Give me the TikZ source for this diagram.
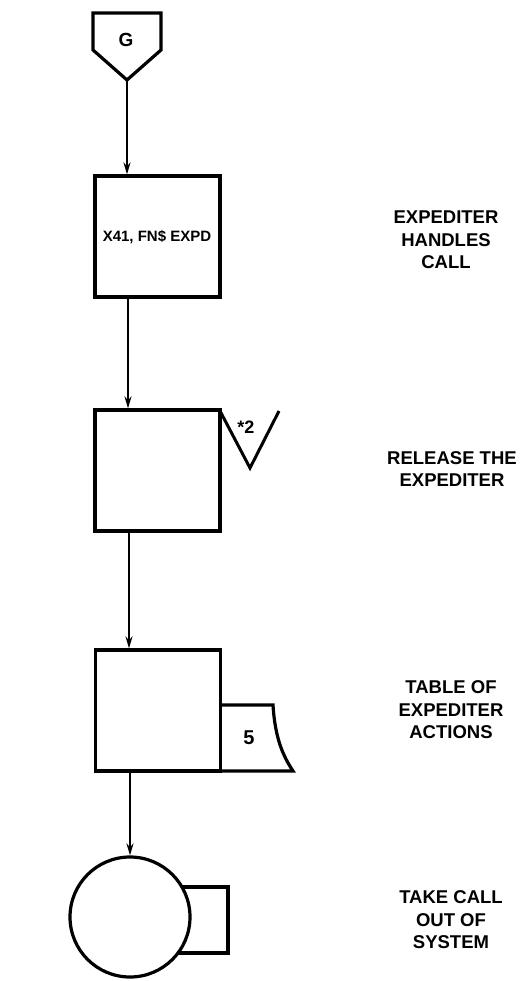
\documentclass[tikz,border=0pt]{standalone}
\usepackage{fontspec}
\setmainfont{Liberation Sans}
\usetikzlibrary{arrows.meta}
\begin{document}
\begin{tikzpicture}[x=1pt,y=-1pt,
  outline/.style={line width=3.2pt,line join=miter},
  flowbox/.style={draw,line width=3.2pt,minimum width=125pt,minimum height=121pt,inner sep=0pt},
  conn/.style={line width=2pt,-{Stealth[length=12pt,width=7pt]}},
  boxtext/.style={font=\bfseries\fontsize{15}{17}\selectfont},
  label/.style={font=\bfseries\fontsize{18.5}{22.5}\selectfont,align=center,inner sep=0pt}]
\useasboundingbox (0,0) rectangle (525,981);
% G off-page connector
\draw[outline] (93,13) -- (161,13) -- (161,50) -- (127,80) -- (93,50) -- cycle;
\node[font=\bfseries\fontsize{19}{20}\selectfont,inner sep=0pt] (g) at (126,40) {G};
\coordinate (gtip) at (127,80);
% boxes
\node[flowbox] (b1) at (157.5,236.5) {};
\node[boxtext] (t1) at (157,237) {X41, FN\$ EXPD};
\node[flowbox] (b2) at (157.5,470.5) {};
\node[flowbox] (b3) at (158,710.5) {};
% *2 flag
\coordinate (v1) at (219.5,410);
\coordinate (v2) at (250,468);
\coordinate (v3) at (279,411);
\draw[line width=3pt,line join=miter] (v1) -- (v2) -- (v3);
\node[font=\bfseries\fontsize{18}{18}\selectfont,inner sep=0pt] (s2) at (246,427) {*2};
% 5 table symbol
\draw[outline] (221,705) -- (273,705) .. controls (275,738) and (283,756) .. (293,771) -- (221,771);
\node[font=\bfseries\fontsize{20}{20}\selectfont,inner sep=0pt] (five) at (249,738) {5};
% terminal: circle with small rectangle
\draw[outline,fill=white] (165,887) rectangle (228,953);
\node[draw,circle,line width=3.2pt,fill=white,minimum size=120pt,inner sep=0pt] (c) at (130,917) {};
% connectors
\draw[conn] (gtip) -- (gtip |- b1.north);
\draw[conn] (128,297) coordinate (o1) -- (o1 |- b2.north);
\draw[conn] (129,531) coordinate (o2) -- (o2 |- b3.north);
\draw[conn] (130,771) coordinate (o3) -- (c.north);
% labels
\node[label] (l1) at (446,240) {EXPEDITER\\HANDLES\\CALL};
\node[label] (l2) at (452,469) {RELEASE THE\\EXPEDITER};
\node[label] (l3) at (451,710) {TABLE OF\\EXPEDITER\\ACTIONS};
\node[label] (l4) at (451,920) {TAKE CALL\\OUT OF\\SYSTEM};
\end{tikzpicture}
\end{document}
